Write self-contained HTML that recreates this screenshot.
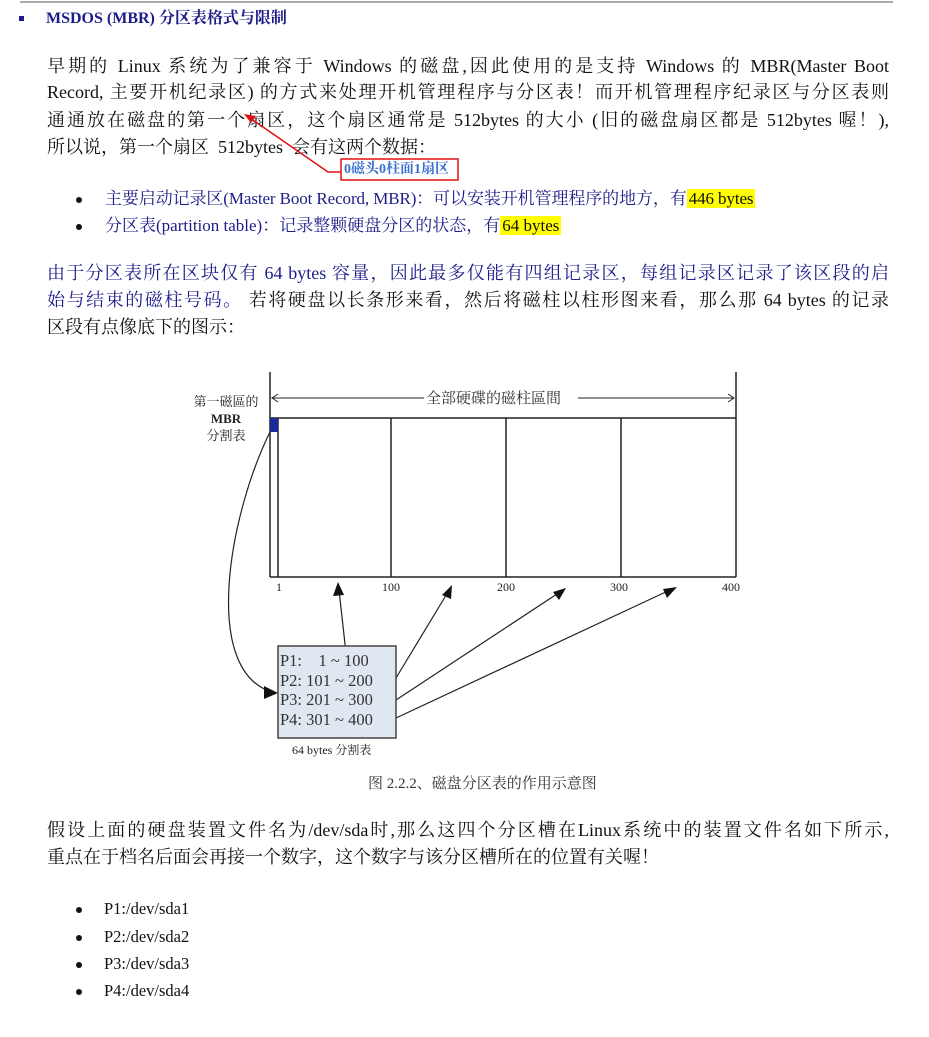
<!DOCTYPE html>
<html><head><meta charset="utf-8"><style>
body{margin:0;width:929px;height:1037px;background:#fff;position:relative;overflow:hidden;font-family:"Liberation Serif","Noto Serif CJK SC",serif;}
.l{position:absolute;left:47px;width:842px;font-size:18px;line-height:22px;white-space:nowrap;color:#111;}
.j{text-align:justify;text-align-last:justify;white-space:normal;}
.b{color:#1c1c8a;}
.dot{position:absolute;width:6px;height:6px;border-radius:50%;background:#111;}
.hl{background:#ffff00;color:#111;padding:0 2px;}
.s{position:absolute;font-size:15px;white-space:nowrap;color:#222;}
</style></head><body>
<div style="position:absolute;left:20px;top:1px;width:873px;height:2px;background:#aaa"></div>
<div style="position:absolute;left:19px;top:16px;width:5px;height:5px;background:#1c1c8a"></div>
<div class="l" style="left:46px;top:8px;font-size:16px;font-weight:bold;color:#1c1c8a">MSDOS (MBR) 分区表格式与限制</div>

<div class="l j" style="top:55px">早期的 Linux 系统为了兼容于 Windows 的磁盘,因此使用的是支持 Windows 的 MBR(Master Boot</div>
<div class="l j" style="top:81px">Record, 主要开机纪录区) 的方式来处理开机管理程序与分区表！而开机管理程序纪录区与分区表则</div>
<div class="l j" style="top:109px">通通放在磁盘的第一个扇区，这个扇区通常是 512bytes 的大小 (旧的磁盘扇区都是 512bytes 喔！),</div>
<div class="l" style="top:136px">所以说，第一个扇区&nbsp; 512bytes&nbsp; 会有这两个数据：</div>

<svg style="position:absolute;left:0;top:0" width="929" height="200">
<polyline points="341,172 328,172 250,118" fill="none" stroke="#e01010" stroke-width="1.5"/>
<polygon points="244,114 256,116 251,123" fill="#e01010"/>
<rect x="341" y="159" width="117" height="21" fill="none" stroke="#e01010" stroke-width="1.5"/>
</svg>
<div class="l" style="left:344px;top:160px;font-size:14px;font-weight:bold;color:#3a6fd0;line-height:20px">0磁头0柱面1扇区</div>

<div class="dot" style="left:76px;top:197px"></div>
<div class="l b" style="left:105px;top:188px;font-size:17px;letter-spacing:-0.1px">主要启动记录区(Master Boot Record, MBR)：可以安装开机管理程序的地方，有<span class="hl">446 bytes</span></div>
<div class="dot" style="left:76px;top:224px"></div>
<div class="l b" style="left:105px;top:215px;font-size:17px">分区表(partition table)：记录整颗硬盘分区的状态，有<span class="hl">64 bytes</span></div>

<div class="l j b" style="top:262px">由于分区表所在区块仅有 64 bytes 容量，因此最多仅能有四组记录区，每组记录区记录了该区段的启</div>
<div class="l j" style="top:289px"><span class="b">始与结束的磁柱号码。</span> 若将硬盘以长条形来看，然后将磁柱以柱形图来看，那么那 64 bytes 的记录</div>
<div class="l" style="top:316px">区段有点像底下的图示：</div>

<svg style="position:absolute;left:0;top:360px" width="929" height="420">
<g stroke="#222" stroke-width="1.5" fill="none">
<line x1="270" y1="12" x2="270" y2="217"/>
<line x1="736" y1="12" x2="736" y2="217"/>
<line x1="270" y1="217" x2="736" y2="217"/>
<line x1="270" y1="58" x2="736" y2="58"/>
<line x1="278" y1="58" x2="278" y2="217"/>
<line x1="391" y1="58" x2="391" y2="217"/>
<line x1="506" y1="58" x2="506" y2="217"/>
<line x1="621" y1="58" x2="621" y2="217"/>
<line x1="272" y1="38" x2="424" y2="38" stroke-width="1"/>
<line x1="578" y1="38" x2="734" y2="38" stroke-width="1"/>
<polyline points="278,34 272,38 278,42" stroke-width="1"/>
<polyline points="728,34 734,38 728,42" stroke-width="1"/>
<line x1="347" y1="302" x2="339" y2="230" stroke-width="1.2"/>
<line x1="396" y1="318" x2="448" y2="232" stroke-width="1.2"/>
<line x1="396" y1="340" x2="560" y2="232" stroke-width="1.2"/>
<line x1="396" y1="358" x2="670" y2="230" stroke-width="1.2"/>
<path d="M272,68 C230,150 200,310 272,332" stroke-width="1.2"/>
</g>
<rect x="270" y="58" width="8" height="14" fill="#1a2a9a"/>
<g fill="#111">
<polygon points="338,222 333,236 344,235"/>
<polygon points="452,225 442,235 451,239"/>
<polygon points="566,228 553,232 559,240"/>
<polygon points="677,227 663,229 667,238"/>
<polygon points="278,333 264,326 264,339"/>
</g>
<rect x="278" y="286" width="118" height="92" fill="#dfe7f1" stroke="#444" stroke-width="1.5"/>
</svg>
<div class="s" style="left:426px;top:387px;font-size:15px;color:#333">全部硬碟的磁柱區間</div>
<div class="s" style="left:191px;top:393px;font-size:13px;line-height:17px;text-align:center;width:70px">第一磁區的<br><b>MBR</b><br>分割表</div>
<div class="s" style="left:276px;top:580px;font-size:12px">1</div>
<div class="s" style="left:382px;top:580px;font-size:12px">100</div>
<div class="s" style="left:497px;top:580px;font-size:12px">200</div>
<div class="s" style="left:610px;top:580px;font-size:12px">300</div>
<div class="s" style="left:722px;top:580px;font-size:12px">400</div>
<div class="s" style="left:280px;top:651px;font-size:16.5px;line-height:19.5px;color:#333;white-space:pre">P1:    1 ~ 100
P2: 101 ~ 200
P3: 201 ~ 300
P4: 301 ~ 400</div>
<div class="s" style="left:292px;top:741px;font-size:12px">64 bytes 分割表</div>
<div class="s" style="left:368px;top:772px;font-size:15px;color:#333">图 2.2.2、磁盘分区表的作用示意图</div>

<div class="l j" style="top:819px">假设上面的硬盘装置文件名为/dev/sda时,那么这四个分区槽在Linux系统中的装置文件名如下所示,</div>
<div class="l" style="top:846px">重点在于档名后面会再接一个数字，这个数字与该分区槽所在的位置有关喔！</div>

<div class="dot" style="left:76px;top:907px"></div>
<div class="l" style="left:104px;top:898px;font-size:16.5px">P1:/dev/sda1</div>
<div class="dot" style="left:76px;top:935px"></div>
<div class="l" style="left:104px;top:926px;font-size:16.5px">P2:/dev/sda2</div>
<div class="dot" style="left:76px;top:962px"></div>
<div class="l" style="left:104px;top:953px;font-size:16.5px">P3:/dev/sda3</div>
<div class="dot" style="left:76px;top:989px"></div>
<div class="l" style="left:104px;top:980px;font-size:16.5px">P4:/dev/sda4</div>
</body></html>
